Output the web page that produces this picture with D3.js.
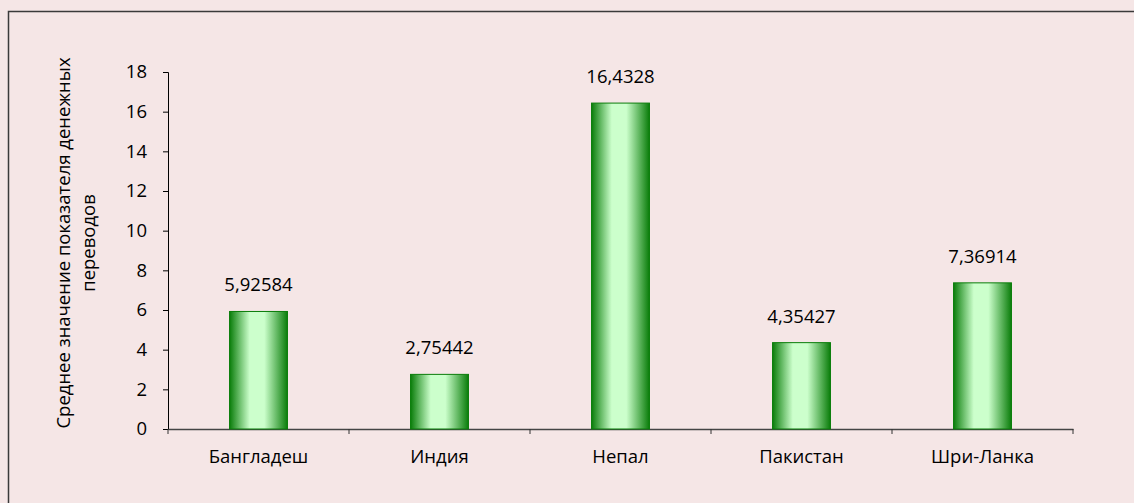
<!DOCTYPE html>
<html>
<head>
<meta charset="utf-8">
<script src="https://cdn.jsdelivr.net/npm/d3@7"></script>
<style>
  body { margin: 0; background: #f5e6e6; }
  svg { display: block; font-family: "Open Sans", "Noto Sans", sans-serif; }
</style>
</head>
<body>
<div id="chart"></div>
<script>
var countries = ["Бангладеш", "Индия", "Непал", "Пакистан", "Шри-Ланка"];
var remittances = [5.92584, 2.75442, 16.4328, 4.35427, 7.36914];
var valueLabels = ["5,92584", "2,75442", "16,4328", "4,35427", "7,36914"];
var yTicks = [0, 2, 4, 6, 8, 10, 12, 14, 16, 18];
var yTitle = ["Среднее значение показателя денежных", "переводов"];

var width = 1134, height = 503;
var plotL = 168, plotR = 1073, plotT = 72, plotB = 429;
var fs = 18.5;

var svg = d3.select("#chart").append("svg")
    .attr("width", width)
    .attr("height", height);

// frame
svg.append("rect")
    .attr("x", 8.5).attr("y", 11.5)
    .attr("width", 1140).attr("height", 500)
    .attr("fill", "#f5e6e6")
    .attr("stroke", "#3a3a3a")
    .attr("stroke-width", 1.5);

var grad = svg.append("defs").append("linearGradient")
    .attr("id", "barfill")
    .attr("x1", "0%").attr("x2", "100%").attr("y1", "0%").attr("y2", "0%");
grad.append("stop").attr("offset", "0%").attr("stop-color", "#0a7d0a");
grad.append("stop").attr("offset", "35%").attr("stop-color", "#ccffcc");
grad.append("stop").attr("offset", "60%").attr("stop-color", "#ccffcc");
grad.append("stop").attr("offset", "100%").attr("stop-color", "#0a7d0a");

var x = d3.scaleBand().domain(countries).range([plotL, plotR]).paddingInner(0.68).paddingOuter(0.34);
var y = d3.scaleLinear().domain([0, 18]).range([plotB, plotT]);

svg.append("g")
    .attr("transform", `translate(${plotL},0)`)
    .call(d3.axisLeft(y).tickValues(yTicks).tickSize(5).tickPadding(16).tickFormat(d3.format("d")))
    .attr("font-family", null).attr("font-size", fs)
    .call(g => g.select(".domain").attr("stroke", "#000"))
    .call(g => g.selectAll("text").attr("fill", "#000"));

var xb = d3.scaleBand().domain(countries).range([plotL, plotR]);
svg.append("g")
    .attr("transform", `translate(0,${plotB})`)
    .call(d3.axisBottom(xb).tickSize(0).tickPadding(21))
    .attr("font-family", null).attr("font-size", fs)
    .call(g => g.select(".domain").attr("stroke", "#444").attr("stroke-width", 1.5))
    .call(g => g.selectAll("text").attr("fill", "#000"));

// tick marks at band boundaries
svg.append("g").selectAll("line")
    .data(countries.concat(["end"]))
    .join("line")
    .attr("x1", (d, i) => plotL + i * xb.step())
    .attr("x2", (d, i) => plotL + i * xb.step())
    .attr("y1", plotB).attr("y2", plotB + 5)
    .attr("stroke", "#333");

svg.append("g").selectAll("rect")
    .data(remittances)
    .join("rect")
    .attr("x", (d, i) => x(countries[i]))
    .attr("y", d => y(d))
    .attr("width", x.bandwidth())
    .attr("height", d => y(0) - y(d))
    .attr("fill", "url(#barfill)")
    .attr("stroke", "#0a7d0a")
    .attr("stroke-width", 1);

svg.append("g").selectAll("text")
    .data(remittances)
    .join("text")
    .attr("x", (d, i) => x(countries[i]) + x.bandwidth() / 2)
    .attr("y", d => y(d) - 20)
    .attr("text-anchor", "middle")
    .attr("font-size", fs)
    .text((d, i) => valueLabels[i]);

var title = svg.append("text")
    .attr("transform", `translate(64,243) rotate(-90)`)
    .attr("text-anchor", "middle")
    .attr("font-size", fs);
title.selectAll("tspan")
    .data(yTitle)
    .join("tspan")
    .attr("x", 0)
    .attr("dy", (d, i) => i === 0 ? "0.35em" : "1.3em")
    .text(d => d);
</script>
</body>
</html>
